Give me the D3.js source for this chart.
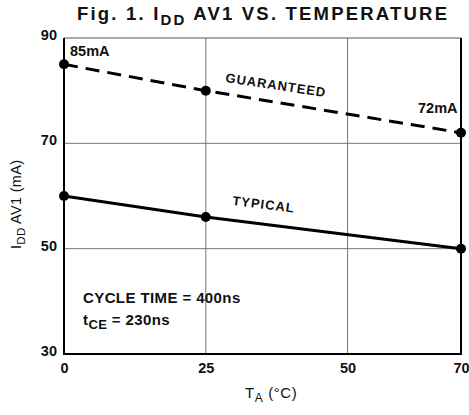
<!DOCTYPE html>
<html>
<head>
<meta charset="utf-8">
<script src="https://cdn.jsdelivr.net/npm/d3@7"></script>
<style>
  html, body { margin: 0; padding: 0; background: #fff; }
  svg { display: block; }
  text { font-family: "Liberation Sans", Arial, Helvetica, sans-serif; fill: #111; }
</style>
</head>
<body>
<svg id="chart" width="469" height="415"></svg>
<script>
// Supply current (I_DD AV1) against ambient temperature
const temps = [0, 25, 70];
const guaranteed = [85, 80, 72];
const typical = [60, 56, 50];
const xTicks = [0, 25, 50, 70];
const yTicks = [30, 50, 70, 90];

const svg = d3.select("#chart");
const plotL = 64, plotR = 461, plotT = 38, plotB = 354;

const x = d3.scaleLinear().domain([0, 70]).range([plotL, plotR]);
const y = d3.scaleLinear().domain([30, 90]).range([plotB, plotT]);

// Title
const title = svg.append("text")
  .attr("x", 77).attr("y", 20)
  .attr("font-size", 18.5).attr("font-weight", "bold")
  .attr("letter-spacing", 2.2);
title.append("tspan").text("Fig. 1.  I");
title.append("tspan").attr("dy", 5).attr("font-size", 15).text("DD");
title.append("tspan").attr("dy", -5).text(" AV1 VS. TEMPERATURE");

// Grid lines
const g = svg.append("g");
g.selectAll("line.vg").data(xTicks.filter(d => d > 0 && d < 70)).enter()
  .append("line")
  .attr("x1", d => x(d)).attr("x2", d => x(d))
  .attr("y1", plotT).attr("y2", plotB)
  .attr("stroke", "#777").attr("stroke-width", 1);
g.selectAll("line.hg").data(yTicks.filter(d => d > 30 && d < 90)).enter()
  .append("line")
  .attr("x1", plotL).attr("x2", plotR)
  .attr("y1", d => y(d)).attr("y2", d => y(d))
  .attr("stroke", "#777").attr("stroke-width", 1);

// Frame
g.append("line").attr("x1", plotL).attr("x2", plotR).attr("y1", plotT).attr("y2", plotT)
  .attr("stroke", "#555").attr("stroke-width", 1);
g.append("line").attr("x1", plotL).attr("x2", plotL).attr("y1", plotT).attr("y2", plotB)
  .attr("stroke", "#000").attr("stroke-width", 2);
g.append("line").attr("x1", plotR).attr("x2", plotR).attr("y1", plotT).attr("y2", plotB)
  .attr("stroke", "#000").attr("stroke-width", 2);
g.append("line").attr("x1", plotL - 1).attr("x2", plotR + 1).attr("y1", plotB).attr("y2", plotB)
  .attr("stroke", "#000").attr("stroke-width", 2);

// Tick labels via axes (domain and tick marks hidden)
const xAxis = svg.append("g").attr("transform", `translate(0,${plotB})`)
  .call(d3.axisBottom(x).tickValues(xTicks).tickSize(0).tickPadding(9));
const yAxis = svg.append("g").attr("transform", `translate(${plotL},0)`)
  .call(d3.axisLeft(y).tickValues(yTicks).tickSize(0).tickPadding(7));
[xAxis, yAxis].forEach(a => {
  a.select(".domain").remove();
  a.selectAll("text")
    .attr("font-family", "Liberation Sans, Arial, sans-serif")
    .attr("font-size", 14.5).attr("font-weight", "bold").attr("fill", "#111");
});
yAxis.selectAll("text").attr("dy", "0.1em");

// Series lines
const line = d3.line().x((d, i) => x(temps[i])).y(d => y(d));
svg.append("path").datum(guaranteed)
  .attr("d", line).attr("fill", "none")
  .attr("stroke", "#000").attr("stroke-width", 3)
  .attr("stroke-dasharray", "14,8");
svg.append("path").datum(typical)
  .attr("d", line).attr("fill", "none")
  .attr("stroke", "#000").attr("stroke-width", 3);

// Data points
[guaranteed, typical].forEach(series => {
  svg.append("g").selectAll("circle").data(series).enter()
    .append("circle")
    .attr("cx", (d, i) => x(temps[i])).attr("cy", d => y(d))
    .attr("r", 5).attr("fill", "#000");
});

// Annotations
const ann = (tx, ty, str, size, rot) => svg.append("text")
  .attr("transform", `translate(${tx},${ty}) rotate(${rot || 0})`)
  .attr("font-size", size).attr("font-weight", "bold").text(str);

ann(70, 56, `${guaranteed[0]}mA`, 14.5);
ann(418, 113, `${guaranteed[2]}mA`, 14.5);
ann(225, 82, "GUARANTEED", 13, 8.5).attr("letter-spacing", 1);
ann(232, 205, "TYPICAL", 13, 7).attr("letter-spacing", 1);
ann(83, 303, "CYCLE TIME = 400ns", 15).attr("letter-spacing", 0.4);

const tce = svg.append("text").attr("x", 83).attr("y", 325)
  .attr("font-size", 15).attr("font-weight", "bold").attr("letter-spacing", 0.4);
tce.append("tspan").text("t");
tce.append("tspan").attr("dy", 4).attr("font-size", 13).text("CE");
tce.append("tspan").attr("dy", -4).text(" = 230ns");

// Axis titles
const xl = svg.append("text").attr("x", 245).attr("y", 398)
  .attr("font-size", 15).attr("letter-spacing", 0.6);
xl.append("tspan").text("T");
xl.append("tspan").attr("dy", 4).attr("font-size", 12).text("A");
xl.append("tspan").attr("dy", -4).text("  (°C)");

const yl = svg.append("text")
  .attr("transform", "translate(21,249) rotate(-90)")
  .attr("font-size", 14.5).attr("letter-spacing", 0.3);
yl.append("tspan").text("I");
yl.append("tspan").attr("dy", 4).attr("font-size", 11.5).text("DD");
yl.append("tspan").attr("dy", -4).text(" AV1 (mA)");
</script>
</body>
</html>
